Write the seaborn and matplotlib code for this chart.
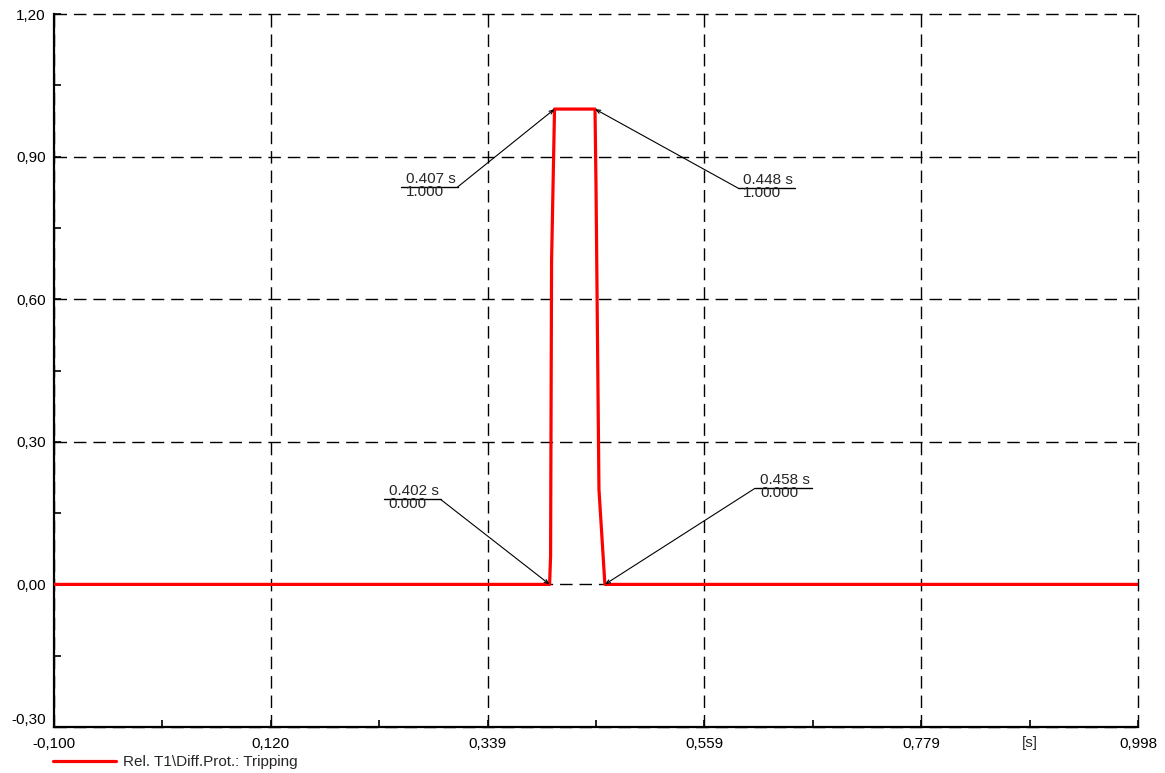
import numpy as np
import matplotlib
matplotlib.use("Agg")
import matplotlib.pyplot as plt
import seaborn as sns

# --- data ---
time_s = [-0.100, 0.402, 0.403, 0.404, 0.407, 0.448, 0.449, 0.452, 0.458, 0.998]
tripping = [0.000, 0.000, 0.060, 0.680, 1.000, 1.000, 0.840, 0.200, 0.000, 0.000]
series_label = "Rel. T1\\Diff.Prot.: Tripping"

x_ticks = np.linspace(-0.100, 0.998, 6)
x_tick_labels = ["-0,100", "0,120", "0,339", "0,559", "0,779", "0,998"]
y_ticks = [-0.30, 0.00, 0.30, 0.60, 0.90, 1.20]
y_tick_labels = ["-0,30", "0,00", "0,30", "0,60", "0,90", "1,20"]

# marker annotations: (time, value)
marks_t = [0.407, 0.448, 0.402, 0.458]
marks_v = [1.000, 1.000, 0.000, 0.000]
# elbow offsets in pixels from the marked point, and underline direction
elbow_dx = [-97, 143, -109, 150]
elbow_dy = [-78, -79, 85, 96]
side = [-1, 1, -1, 1]

FS = 11

sns.set_style("ticks")
plt.rcParams["font.family"] = ["Liberation Sans", "DejaVu Sans"]

fig = plt.figure(figsize=(11.65, 7.73), dpi=100)
ax = fig.add_axes([54 / 1165, 1 - 727 / 773, (1138 - 54) / 1165, (727 - 14) / 773])

sns.lineplot(x=time_s, y=tripping, color="#ff0000", linewidth=2.3,
             estimator=None, sort=False, ax=ax, label=series_label, zorder=3)

ax.set_xlim(-0.100, 0.998)
ax.set_ylim(-0.30, 1.20)
ax.set_xticks(x_ticks)
ax.set_xticklabels(x_tick_labels)
ax.set_yticks(y_ticks)
ax.set_yticklabels(y_tick_labels)
ax.set_xticks((x_ticks[:-1] + x_ticks[1:]) / 2, minor=True)
yt = np.array(y_ticks)
ax.set_yticks((yt[:-1] + yt[1:]) / 2, minor=True)
ax.tick_params(which="both", direction="in", length=5, width=1.2, colors="black",
               labelsize=FS, pad=6)
ax.tick_params(axis="x", pad=7)
ax.get_yticklabels()[0].set_va("bottom")

for s in ["top", "right"]:
    ax.spines[s].set_visible(False)
for s in ["left", "bottom"]:
    ax.spines[s].set_linewidth(1.6)
    ax.spines[s].set_color("black")

ax.grid(True, which="major", color="black", linewidth=1.0, linestyle=(0, (9, 5)))
for gl in ax.get_xgridlines() + ax.get_ygridlines():
    gl.set_clip_on(False)

# unit label at the last minor tick
ax.text((x_ticks[-2] + x_ticks[-1]) / 2, -0.012, "[s]", transform=ax.get_xaxis_transform(),
        ha="center", va="top", fontsize=FS)

# annotations with underline + leader line
inv = ax.transData.inverted()
for t, v, dx, dy, sd in zip(marks_t, marks_v, elbow_dx, elbow_dy, side):
    p = ax.transData.transform((t, v))
    elbow = p + np.array([dx, dy])
    end = elbow + np.array([sd * 57, 0])
    e_d = inv.transform(elbow)
    n_d = inv.transform(end)
    ax.annotate("", xy=(t, v), xytext=e_d,
                arrowprops=dict(arrowstyle="->,head_length=0.3,head_width=0.12",
                                color="black", lw=0.8, shrinkA=0, shrinkB=0))
    ax.plot([e_d[0], n_d[0]], [e_d[1], n_d[1]], color="black", lw=1.0)
    left_px = min(elbow[0], end[0]) + 5
    tx, ty = inv.transform((left_px, elbow[1] + 1))
    ax.text(tx, ty, f"{t:.3f} s", ha="left", va="bottom", fontsize=FS)
    tx, ty = inv.transform((left_px, elbow[1] + 2))
    ax.text(tx, ty, f"{v:.3f}", ha="left", va="top", fontsize=FS)

ax.legend(loc="center left", bbox_to_anchor=(53 / 1165, 1 - 762 / 773),
          bbox_transform=fig.transFigure, frameon=False, fontsize=FS,
          handlelength=4.1, handletextpad=0.5, borderpad=0, borderaxespad=0)

fig.savefig("out.png", dpi=100)
